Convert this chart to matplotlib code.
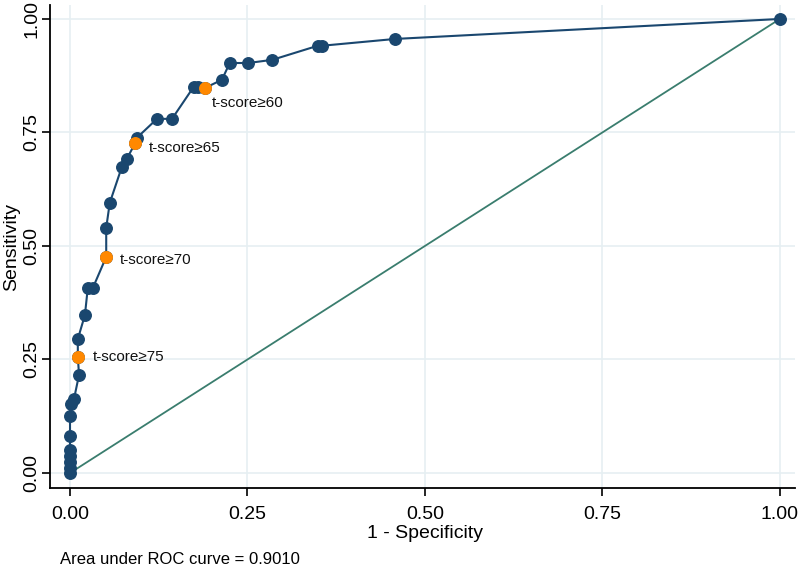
import matplotlib
matplotlib.use("Agg")
import matplotlib.pyplot as plt

# ROC curve points (1 - specificity, sensitivity)
fpr = [0.0, 0.0, 0.0, 0.0, 0.0, 0.0, 0.0, 0.0014, 0.0056, 0.0127, 0.011, 0.011,
       0.021, 0.025, 0.032, 0.051, 0.051, 0.056, 0.073, 0.080, 0.092, 0.094,
       0.1225, 0.1437, 0.174, 0.181, 0.190, 0.214, 0.225, 0.251, 0.285,
       0.349, 0.355, 0.458, 1.0]
tpr = [0.0, 0.011, 0.024, 0.037, 0.051, 0.081, 0.126, 0.152, 0.163, 0.216, 0.256, 0.295,
       0.348, 0.407, 0.407, 0.476, 0.540, 0.595, 0.674, 0.692, 0.727, 0.738,
       0.780, 0.780, 0.850, 0.850, 0.848, 0.866, 0.903, 0.903, 0.910,
       0.941, 0.941, 0.956, 1.0]

# Highlighted cut-off points
cut_fpr = [0.190, 0.092, 0.051, 0.011]
cut_tpr = [0.848, 0.727, 0.476, 0.256]
cut_labels = ["t-score\u226560", "t-score\u226565", "t-score\u226570", "t-score\u226575"]
cut_offsets = [(5, -11), (10, -4), (10, -2), (11, 0)]

auc_text = "Area under ROC curve = 0.9010"

navy = "#1a476f"
orange = "#ff8800"
green = "#3a7d6e"
gridc = "#e6eff2"

plt.rcParams['font.family'] = ['Liberation Sans', 'DejaVu Sans']

fig = plt.figure(figsize=(8, 5.69), dpi=100)
ax = fig.add_axes([0.0625, 0.1424, 0.931, 0.849])

ax.plot([0, 1], [0, 1], color=green, lw=1.3, zorder=2)
ax.plot(fpr, tpr, color=navy, lw=1.5, marker='o', markersize=8.3,
        markerfacecolor=navy, markeredgecolor=navy, zorder=3)
ax.plot(cut_fpr, cut_tpr, linestyle='none', marker='o', markersize=8.3,
        markerfacecolor=orange, markeredgecolor=orange, zorder=4)
for x, y, lab, off in zip(cut_fpr, cut_tpr, cut_labels, cut_offsets):
    ax.annotate(lab, (x, y), xytext=off, textcoords='offset points',
                ha='left', va='center', fontsize=11, color='#111111')

ax.set_xlim(-0.0282, 1.0211)
ax.set_ylim(-0.033, 1.031)
ticks = [0, 0.25, 0.5, 0.75, 1.0]
ax.set_xticks(ticks)
ax.set_yticks(ticks)
ax.set_xticklabels(["0.00", "0.25", "0.50", "0.75", "1.00"], fontsize=14)
ax.set_yticklabels(["0.00", "0.25", "0.50", "0.75", "1.00"], fontsize=14,
                   rotation=90, va='center')
ax.grid(True, color=gridc, lw=1.2, zorder=0)
ax.set_axisbelow(True)
for s in ['top', 'right']:
    ax.spines[s].set_visible(False)
for s in ['left', 'bottom']:
    ax.spines[s].set_linewidth(1.3)
ax.tick_params(axis='x', direction='out', length=6, width=1.2, pad=7)
ax.tick_params(axis='y', direction='out', length=6, width=1.2, pad=1)

ax.set_xlabel("1 - Specificity", fontsize=14)
ax.set_ylabel("Sensitivity", fontsize=14)
ax.xaxis.set_label_coords((425 - 50) / 745, -(525 - 488) / 483)
ax.yaxis.set_label_coords(-(50 - 20) / 745, (488 - 247) / 483)

fig.text(60 / 800, 1 - 560 / 569, auc_text, fontsize=12, ha='left', va='center')

fig.savefig("out.png", dpi=100)
